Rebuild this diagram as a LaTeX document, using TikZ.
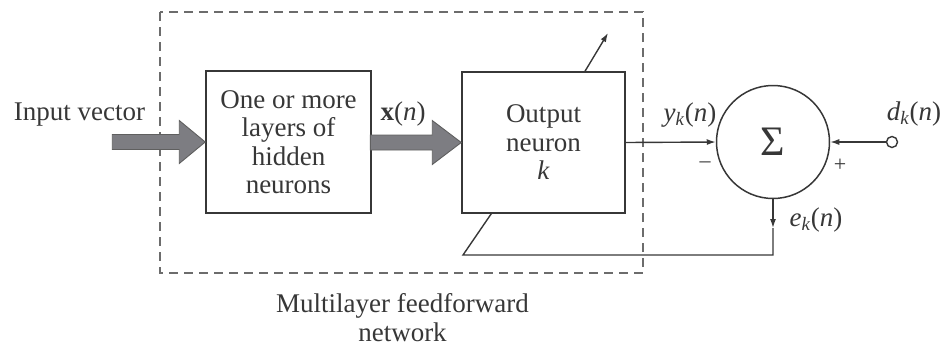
\documentclass[tikz,border=0pt]{standalone}
\usepackage{fontspec}
\setmainfont{Liberation Serif}
\usetikzlibrary{arrows.meta,calc}
\definecolor{ink}{RGB}{55,55,55}
\definecolor{fatfill}{RGB}{125,125,130}
\begin{document}
\begin{tikzpicture}[x=1pt,y=-1pt,
  line width=1.4pt, draw=ink, text=ink,
  lbl/.style={inner sep=0pt, font=\fontsize{27}{28.5}\selectfont, text=ink},
  box/.style={draw=ink, line width=1.5pt, inner sep=0pt, align=center,
              font=\fontsize{27}{28.5}\selectfont, text=ink},
  fat/.style={fill=fatfill, draw=ink!80, line width=0.9pt},
  tip/.style={-{Latex[length=9pt,width=6pt]}},
  frame/.style={draw=gray!85!black, line width=1.3pt, dash pattern=on 9pt off 6pt}]
\useasboundingbox (0,0) rectangle (945,346);

% dashed frame
\draw[frame] (160,12) rectangle (643,273);

% blocks
\node[box, minimum width=165pt, minimum height=142pt] (hid) at (288.5,142)
  {One or more\\layers of\\hidden\\neurons};
\node[box, minimum width=163pt, minimum height=141pt] (out) at (543.5,142.5)
  {Output\\neuron\\\textit{k}};
\node[circle, draw=ink, line width=1.5pt, minimum size=113pt, inner sep=0pt,
      font=\fontsize{42}{42}\selectfont, text=ink] (sum) at (773,142) {Σ};
\node[circle, draw=ink, line width=1.4pt, minimum size=11pt, inner sep=0pt, fill=white] (dn) at (892,142) {};

% labels
\node[lbl, anchor=base] (inlbl) at (79.5,120) {Input vector};
\node[lbl, anchor=base] (xl) at (403,120) {\textbf{x}(\textit{n})};
\node[lbl, anchor=base] (yl) at (690,121) {\textit{y}\textsubscript{\textit{k}}(\textit{n})};
\node[lbl, anchor=base] (dl) at (914,120) {\textit{d}\textsubscript{\textit{k}}(\textit{n})};
\node[lbl, anchor=base] (el) at (816,226) {\textit{e}\textsubscript{\textit{k}}(\textit{n})};
\node[lbl, font=\fontsize{22}{22}\selectfont] (minus) at (705,165) {–};
\node[lbl, font=\fontsize{22}{22}\selectfont] (plus) at (840,165) {+};
\node[lbl, align=center, anchor=base] (mlp) at (402.5,341) {Multilayer feedforward\\network};

% fat arrows
\draw[fat] (hid.west) -- ++(-26,-21.5) -- ++(0,14) -- ++(-67,0) -- ++(0,15)
  -- ++(67,0) -- ++(0,14) -- cycle;
\draw[fat] (out.west) -- ++(-29,-22) -- ++(0,14.5) -- ++(-62,0) -- ++(0,15)
  -- ++(62,0) -- ++(0,14.5) -- cycle;

% signal lines
\draw[tip] (out.east) -- (sum.west);
\draw[tip] (dn.west) -- (sum.east);
\coordinate (ek) at (773,228);
\coordinate (fb) at (773,255);
\coordinate (fbl) at (463,255);
\coordinate (fbin) at ($(out.south west)+(30,0)$);
\draw[tip] (sum.south) -- (ek);
\draw (ek) -- (fb) -- (fbl) -- (fbin);
\coordinate (wa) at ($(out.north)+(41.5,0)$);
\coordinate (wb) at (608,33);
\draw[tip] (wa) -- (wb);
\end{tikzpicture}
\end{document}
